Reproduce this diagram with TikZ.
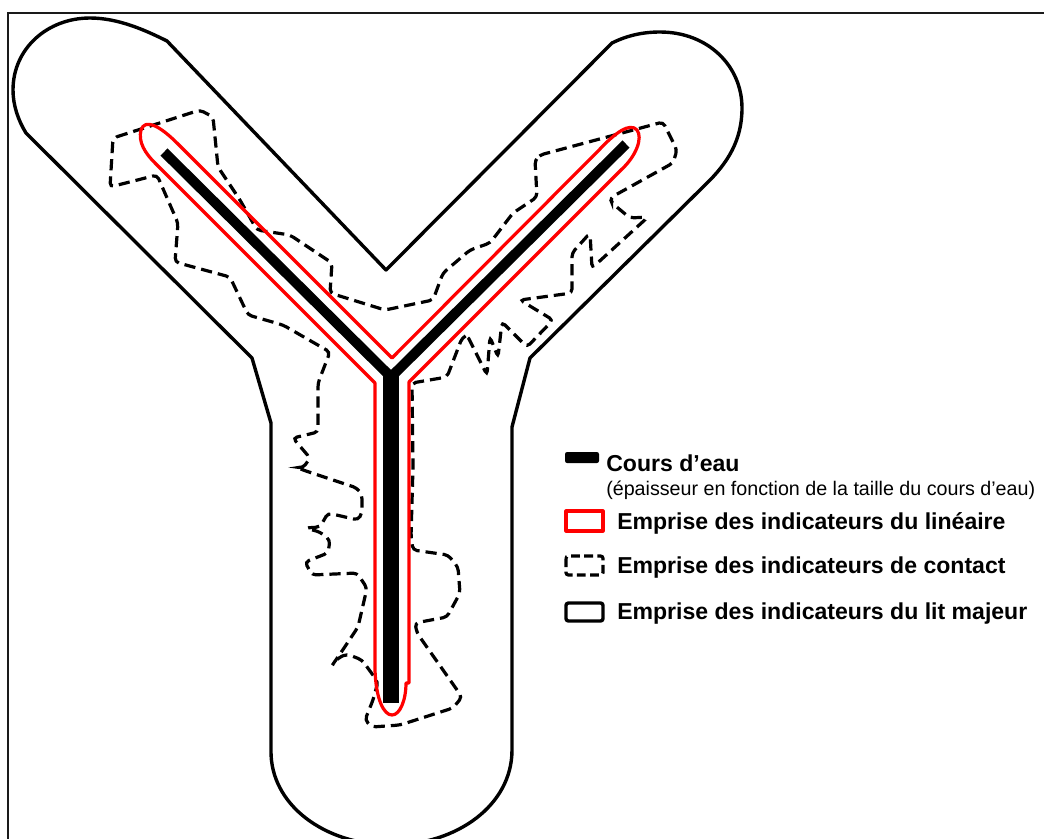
\documentclass[tikz,border=0pt]{standalone}
\usepackage{fontspec}
\setmainfont{Liberation Sans}
\usepackage{tikz}
\definecolor{lineaire}{HTML}{FF0000}
\definecolor{frameline}{HTML}{1A1A1A}

\begin{document}
\begin{tikzpicture}[
  x=0.25mm,y=-0.25mm,
  litmajeur/.style={draw=black,line width=0.85mm,line join=round},
  contactline/.style={draw=black,line width=0.8mm,dash pattern=on 2.8mm off 1.5mm,rounded corners=1mm},
  lineline/.style={draw=lineaire,line width=0.8mm,line join=round},
  legbold/.style={inner sep=0pt,anchor=base west,font=\fontsize{16.4}{18}\selectfont\bfseries},
  legnote/.style={inner sep=0pt,anchor=base west,font=\fontsize{14}{16}\selectfont}
]
\useasboundingbox (0,0) rectangle (1044,838);
% frame
\draw[frameline,line width=0.55mm] (8,13) rectangle (1060,860);

% lit majeur
\draw[litmajeur] (167,41) -- (386,270) -- (612,43)
  .. controls (628,35) and (644,32) .. (660,32)
  .. controls (708,32) and (742,66) .. (742,108)
  .. controls (742,140) and (728,163) .. (705,185)
  -- (530,358) -- (512,427) -- (512,750)
  .. controls (512,805) and (457,845) .. (391,845)
  .. controls (325,845) and (270,805) .. (271,750)
  -- (271,423) -- (252,358) -- (26,133)
  .. controls (18,120) and (13,105) .. (13,90)
  .. controls (13,48) and (48,18) .. (90,18)
  .. controls (118,18) and (145,30) .. (167,41) -- cycle;

% contact
\draw[contactline] (113,138) -- (200,110) -- (213,117) -- (218,167) -- (240,200)
  -- (257,230) -- (290,235) -- (332,263) -- (330,293) -- (385,310) -- (433,300)
  -- (443,273) -- (470,250) -- (490,243) -- (513,213) -- (537,197) -- (535,160)
  -- (540,155) -- (663,122) -- (677,150) -- (673,163) -- (610,198) -- (612,203)
  -- (630,218) -- (648,217) -- (592,268) -- (590,233) -- (572,253) -- (572,293)
  -- (520,300) -- (553,320) -- (527,347) -- (502,322) -- (498,357) -- (490,337)
  -- (487,375) -- (467,335) -- (462,338) -- (447,377) -- (412,383) -- (413,467)
  -- (411,537) -- (413,550) -- (448,555) -- (458,567) -- (460,593) -- (447,617)
  -- (415,623) -- (417,633) -- (462,697) -- (453,708) -- (400,725) -- (372,727)
  -- (365,720) -- (373,700) -- (378,682) -- (362,660) -- (347,654) -- (338,658)
  -- (331,667) -- (340,654) -- (358,627) -- (367,588) -- (357,573) -- (312,575)
  -- (305,562) -- (328,553) -- (330,540) -- (320,532) -- (305,528) -- (320,527)
  -- (328,513) -- (358,520) -- (362,513) -- (362,495) -- (357,488) -- (303,470)
  -- (296,467) -- (303,468) -- (310,458) -- (293,438) -- (318,432) -- (318,383)
  -- (330,352) -- (283,325) -- (248,315) -- (230,277) -- (175,262) -- (178,223)
  -- (157,175) -- (110,187) -- cycle;

% lineaire
\draw[lineline] (375,670) -- (375,383) -- (155,163)
  .. controls (145,153) and (138,142) .. (141,130)
  .. controls (145,118) and (160,126) .. (177,143)
  -- (392,358) -- (600,149)
  .. controls (615,133) and (630,122) .. (637,130)
  .. controls (643,138) and (636,156) .. (622,169)
  -- (409,382) -- (409,683) -- (406,683)
  .. controls (406,700) and (400,715) .. (392,715)
  .. controls (384,715) and (376,700) .. (375,670) -- cycle;

% cours d'eau
\draw[line width=2.5mm,line join=miter] (164,152) -- (391,377) -- (626,144);
\fill (383,374) rectangle (399,703);

% legende
\fill[rounded corners=1.5pt] (565,452) rectangle (599,463);
\node[legbold] (cours) at (606,471) {Cours d’eau};
\node[legnote] (note) at (606,495) {(épaisseur en fonction de la taille du cours d’eau)};
\draw[lineline] (566,511) rectangle (603,531);
\node[legbold] (lin) at (617,529) {Emprise des indicateurs du linéaire};
\draw[contactline,dash pattern=on 2.2mm off 1.1mm,rounded corners=0.6mm] (566,556) rectangle (603,575);
\node[legbold] (cont) at (617,573) {Emprise des indicateurs de contact};
\draw[litmajeur,rounded corners=0.6mm] (566,603) rectangle (603,621);
\node[legbold] (lit) at (617,619) {Emprise des indicateurs du lit majeur};
\end{tikzpicture}
\end{document}
